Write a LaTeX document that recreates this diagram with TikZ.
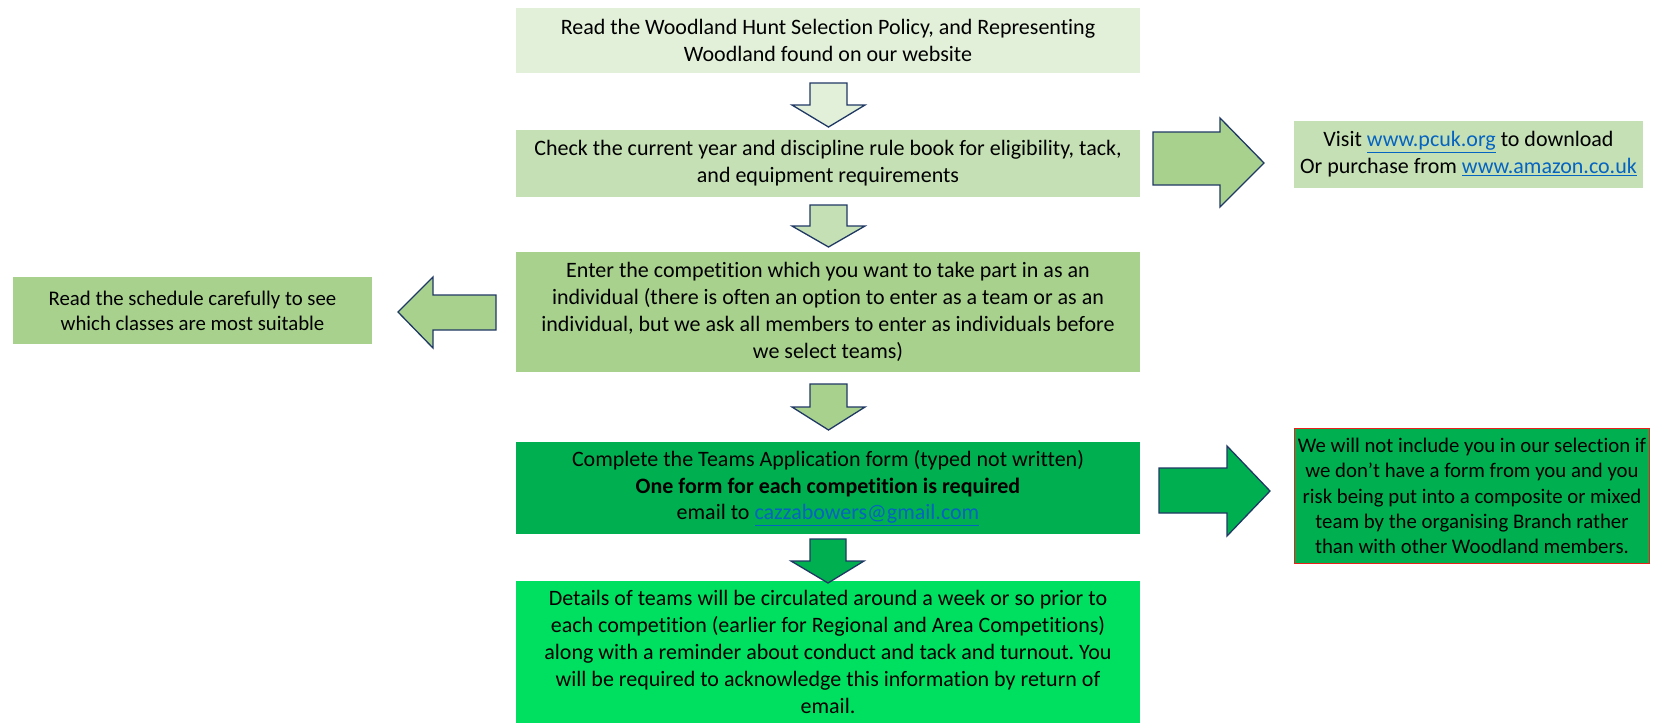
\documentclass[tikz,border=0pt]{standalone}
\usepackage{fontspec}
\setmainfont{Carlito}[Ligatures=NoCommon]
\frenchspacing
\definecolor{g1}{HTML}{E2F0D9}
\definecolor{g2}{HTML}{C5E0B4}
\definecolor{g3}{HTML}{A9D18E}
\definecolor{g4}{HTML}{00B050}
\definecolor{g5}{HTML}{00E060}
\definecolor{navy}{HTML}{1F3864}
\definecolor{linkblue}{HTML}{0563C1}
\definecolor{warnred}{HTML}{E8221B}
\newcommand{\lnk}[1]{\textcolor{linkblue}{\underline{#1}}}
\begin{document}
\begin{tikzpicture}[x=1pt,y=-1pt,
  box/.style={inner sep=0pt, align=center, font=\fontsize{22}{26.8}\selectfont, text=black},
  smallbox/.style={box, font=\fontsize{20.8}{25.3}\selectfont},
  barrow/.style={draw=navy, line width=1.3pt, line join=miter}]
\useasboundingbox (0,0) rectangle (1653,723);
% main column
\node[box, fill=g1, minimum width=624pt, minimum height=65pt] (b1) at (828,40.5)
  {Read the Woodland Hunt Selection Policy, and Representing\\Woodland found on our website};
\node[box, fill=g2, minimum width=624pt, minimum height=67pt] (b2) at (828,163.5)
  {Check the current year and discipline rule book for eligibility, tack,\\and equipment requirements};
\node[box, fill=g3, minimum width=624pt, minimum height=120pt] (b3) at (828,312)
  {Enter the competition which you want to take part in as an\\individual (there is often an option to enter as a team or as an\\individual, but we ask all members to enter as individuals before\\we select teams)};
\node[box, fill=g4, minimum width=624pt, minimum height=92pt] (b4) at (828,488)
  {Complete the Teams Application form (typed not written)\\\textbf{One form for each competition is required}\\email to \lnk{cazzabowers@gmail.com}};
\node[box, fill=g5, minimum width=624pt, minimum height=142pt] (b5) at (828,652)
  {Details of teams will be circulated around a week or so prior to\\each competition (earlier for Regional and Area Competitions)\\along with a reminder about conduct and tack and turnout. You\\will be required to acknowledge this information by return of\\email.};
% side boxes
\node[box, fill=g2, minimum width=349pt, minimum height=67pt] (visit) at (1468.5,154.5)
  {Visit \lnk{www.pcuk.org} to download\\Or purchase from \lnk{www.amazon.co.uk}};
\node[smallbox, fill=g3, minimum width=359pt, minimum height=67pt] (sched) at (192.5,310.5)
  {Read the schedule carefully to see\\which classes are most suitable};
\node[smallbox, fill=g4, draw=warnred, line width=1.2pt, minimum width=355pt, minimum height=135pt] (warn) at (1472,496)
  {We will not include you in our selection if\\we don’t have a form from you and you\\risk being put into a composite or mixed\\team by the organising Branch rather\\than with other Woodland members.};
% down block arrows
\filldraw[barrow, fill=g1] (810,83) -- (847,83) -- (847,105) -- (865,105) -- (828.5,127) -- (792,105) -- (810,105) -- cycle;
\filldraw[barrow, fill=g2] (810,205) -- (847,205) -- (847,226) -- (865,226) -- (828.5,247) -- (792,226) -- (810,226) -- cycle;
\filldraw[barrow, fill=g3] (810,384) -- (847,384) -- (847,407) -- (865,407) -- (828.5,430) -- (792,407) -- (810,407) -- cycle;
\filldraw[barrow, fill=g4] (810,539) -- (846,539) -- (846,561) -- (864,561) -- (828,583) -- (791,561) -- (810,561) -- cycle;
% side block arrows
\filldraw[barrow, fill=g3] (1153,132) -- (1220,132) -- (1220,118) -- (1264,163) -- (1220,207) -- (1220,185) -- (1153,185) -- cycle;
\filldraw[barrow, fill=g3] (496,295) -- (433,295) -- (433,277) -- (398,312) -- (433,348) -- (433,330) -- (496,330) -- cycle;
\filldraw[barrow, fill=g4] (1159,468) -- (1227,468) -- (1227,446) -- (1270,491) -- (1227,536) -- (1227,513) -- (1159,513) -- cycle;
\end{tikzpicture}
\end{document}
